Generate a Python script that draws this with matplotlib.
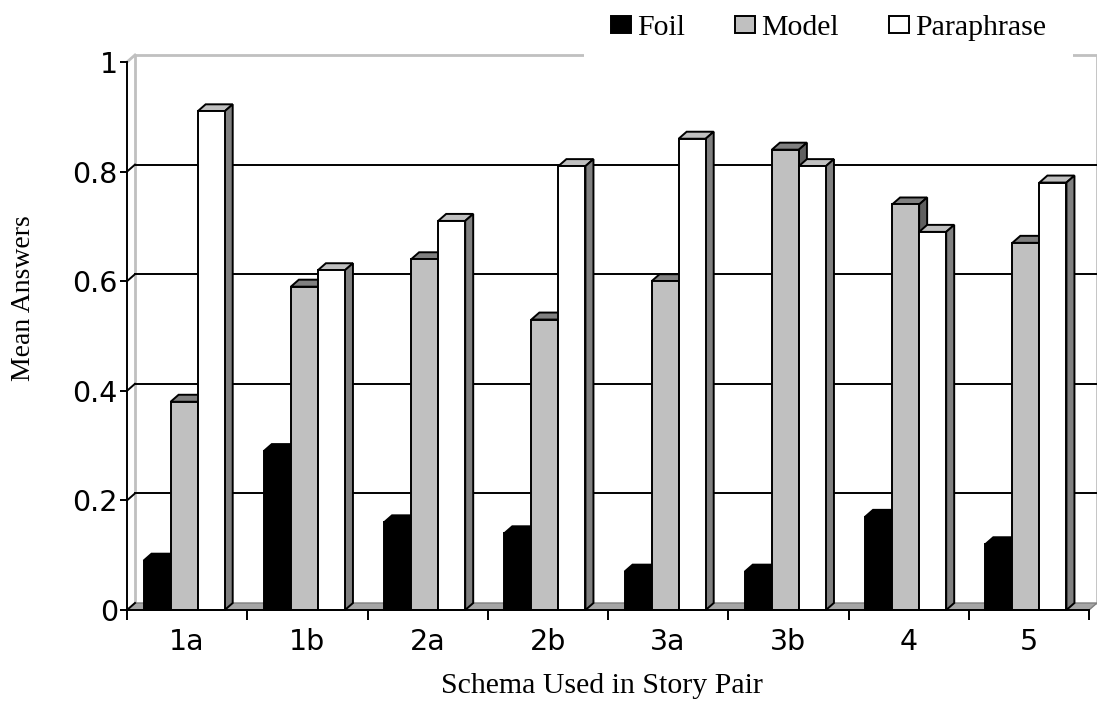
import matplotlib
matplotlib.use("Agg")
import matplotlib.pyplot as plt
from matplotlib.patches import Polygon
import numpy as np

# ---- data -------------------------------------------------------------
categories = ["1a", "1b", "2a", "2b", "3a", "3b", "4", "5"]
series_names = ["Foil", "Model", "Paraphrase"]
foil = [0.09, 0.29, 0.16, 0.14, 0.07, 0.07, 0.17, 0.12]
model = [0.38, 0.59, 0.64, 0.53, 0.60, 0.84, 0.74, 0.67]
paraphrase = [0.91, 0.62, 0.71, 0.81, 0.86, 0.81, 0.69, 0.78]
y_ticks = [0, 0.2, 0.4, 0.6, 0.8, 1]
y_tick_labels = ["0", "0.2", "0.4", "0.6", "0.8", "1"]

# front / top / side shading of each series
face_colors = {
    "Foil": ("#000000", "#000000", "#000000"),
    "Model": ("#c0c0c0", "#808080", "#606060"),
    "Paraphrase": ("#ffffff", "#c0c0c0", "#808080"),
}

# ---- figure -----------------------------------------------------------
W, H, DPI = 1097, 713, 100
fig = plt.figure(figsize=(W / DPI, H / DPI), dpi=DPI)
fig.patch.set_facecolor("white")
ax = fig.add_axes([127 / W, 103 / H, 962 / W, 548 / H])
ax.set_xlim(-0.5, len(categories) - 0.5)
ax.set_ylim(0, 1)
ax.patch.set_visible(False)

# depth of the pseudo-3D view, given in pixels, converted to data units
depth_px = (8, 7)
bbox = ax.get_position()
ax_w_px, ax_h_px = bbox.width * W, bbox.height * H
x0, x1 = ax.get_xlim()
DX = depth_px[0] * (x1 - x0) / ax_w_px
DY = depth_px[1] * 1.0 / ax_h_px

LW = 1.4
wall_grey = "#c0c0c0"

# floor
ax.add_patch(Polygon([(x0, 0), (x1, 0), (x1 + DX, DY), (x0 + DX, DY)],
                     closed=True, facecolor="#a6a6a6", edgecolor="#808080",
                     lw=1.0, zorder=1.5, clip_on=False))

# back wall outline
ax.plot([x0 + DX, x0 + DX, x1 + DX, x1 + DX], [DY, 1 + DY, 1 + DY, DY],
        color=wall_grey, lw=2.0, zorder=1, clip_on=False,
        solid_joinstyle="miter")
ax.plot([x0, x0 + DX], [1, 1 + DY], color=wall_grey, lw=2.0, zorder=1,
        clip_on=False)

# gridlines on the back wall, with the short depth connectors at the axis
for v in y_ticks[1:-1]:
    ax.plot([x0 + DX, x1 + DX], [v + DY, v + DY], color="black", lw=LW,
            zorder=1, clip_on=False)
for v in y_ticks[:-1]:
    ax.plot([x0, x0 + DX], [v, v + DY], color="black", lw=LW, zorder=2,
            clip_on=False)

# ---- bars -------------------------------------------------------------
bw = 0.225
group_shift = -0.025
values = [foil, model, paraphrase]
xs = np.arange(len(categories))
handles = []
for k, (name, vals) in enumerate(zip(series_names, values)):
    front, top, side = face_colors[name]
    left = xs + group_shift + (k - 1.5) * bw
    bars = ax.bar(left, vals, width=bw, align="edge", color=front,
                  edgecolor="black", linewidth=LW, clip_on=False)
    handles.append(bars)
    for i, (patch, h) in enumerate(zip(bars.patches, vals)):
        z = 3 + i * 0.1 + k * 0.01
        patch.set_zorder(z + 0.005)
        lx = left[i]
        rx = lx + bw
        ax.add_patch(Polygon([(lx, h), (rx, h), (rx + DX, h + DY),
                              (lx + DX, h + DY)], closed=True,
                             facecolor=top, edgecolor="black", lw=LW,
                             zorder=z, clip_on=False, joinstyle="miter"))
        ax.add_patch(Polygon([(rx, 0), (rx + DX, DY), (rx + DX, h + DY),
                              (rx, h)], closed=True, facecolor=side,
                             edgecolor="black", lw=LW, zorder=z,
                             clip_on=False, joinstyle="miter"))

# ---- axes, ticks, labels ---------------------------------------------
for s in ["top", "right"]:
    ax.spines[s].set_visible(False)
for s in ["left", "bottom"]:
    ax.spines[s].set_linewidth(LW)
    ax.spines[s].set_color("black")
    ax.spines[s].set_zorder(10)

tick_font = dict(family="DejaVu Sans", fontsize=20.5)
ax.set_xticks(np.arange(x0, x1 + 0.01, 1.0))
ax.set_xticks(xs, minor=True)
ax.set_xticklabels(categories, minor=True, **tick_font)
ax.tick_params(axis="x", which="major", length=7.2, width=LW,
               direction="out", labelbottom=False)
ax.tick_params(axis="x", which="minor", length=0, pad=13)

ax.set_yticks(y_ticks)
ax.set_yticklabels(y_tick_labels, **tick_font)
ax.tick_params(axis="y", length=5, width=LW, direction="out", pad=1.5)

ax.set_ylabel("Mean Answers", family="Liberation Serif", fontsize=20,
              va="center")
ax.yaxis.set_label_coords(-0.108, 0.569)
ax.set_xlabel("Schema Used in Story Pair", family="Liberation Serif",
              fontsize=21.5, va="center")
ax.xaxis.set_label_coords(0.4935, -0.139)

fig.legend(handles, series_names, loc="center",
           bbox_to_anchor=(828.5 / W, 1 - 28 / H), ncol=3, frameon=True,
           fancybox=False, edgecolor="none", facecolor="white",
           framealpha=1, prop=dict(family="Liberation Serif", size=21.5),
           handlelength=0.65, handleheight=0.5, handletextpad=0.2,
           columnspacing=1.7, borderpad=0.9)

fig.savefig("out.png", dpi=DPI, facecolor="white")
